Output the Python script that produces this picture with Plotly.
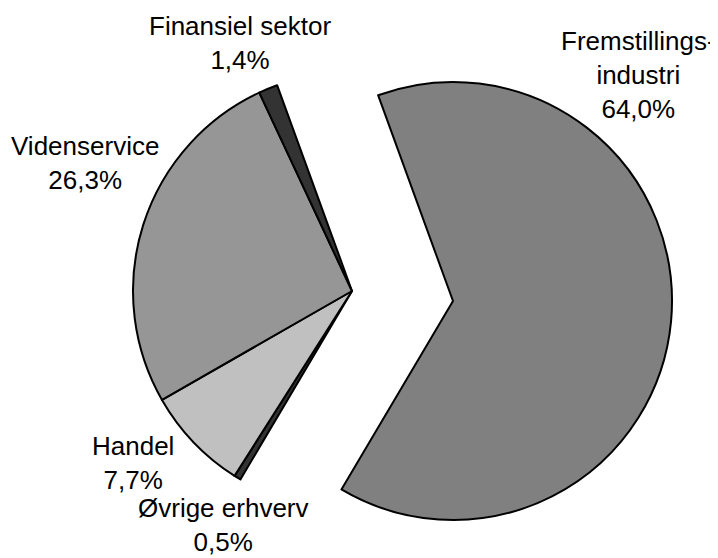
import plotly.graph_objects as go

# data (clockwise from the top, as in the original)
sectors = ["Fremstillingsindustri", "Øvrige erhverv", "Handel", "Videnservice", "Finansiel sektor"]
shares = [64.0, 0.5, 7.7, 26.3, 1.4]
colors = ["#808080", "#333333", "#c0c0c0", "#969696", "#333333"]
label_texts = [
    "Fremstillings-<br>industri<br>64,0%",
    "Øvrige erhverv<br>0,5%",
    "Handel<br>7,7%",
    "Videnservice<br>26,3%",
    "Finansiel sektor<br>1,4%",
]
label_x = [0.888, 0.304, 0.176, 0.109, 0.327]
label_y = [0.879, 0.060, 0.173, 0.718, 0.936]

# page body has an 8px margin, so the figure is a little smaller than the window
W, H = 710, 550

hidden = "rgba(0,0,0,0)"

# the small slices (Fremstilling left invisible here)
fill_main = [hidden] + colors[1:]
line_main = [hidden] + ["black"] * 4
width_main = [0] + [2] * 4

# the pulled-out slice drawn on its own, shifted right
fill_pull = [colors[0]] + [hidden] * 4
line_pull = ["black"] + [hidden] * 4
width_pull = [2] + [0] * 4

fig = go.Figure()

fig.add_trace(
    go.Pie(
        labels=sectors,
        values=shares,
        sort=False,
        direction="clockwise",
        rotation=-20,
        textinfo="none",
        hoverinfo="label+percent",
        marker=dict(colors=fill_main, line=dict(color=line_main, width=width_main)),
        domain=dict(x=[125 / W, 563 / W], y=[1 - 502 / H, 1 - 64 / H]),
        showlegend=False,
    )
)

fig.add_trace(
    go.Pie(
        labels=sectors,
        values=shares,
        sort=False,
        direction="clockwise",
        rotation=-20,
        textinfo="none",
        hoverinfo="label+percent",
        marker=dict(colors=fill_pull, line=dict(color=line_pull, width=width_pull)),
        domain=dict(x=[226 / W, 664 / W], y=[1 - 512 / H, 1 - 74 / H]),
        showlegend=False,
    )
)

for txt, lx, ly in zip(label_texts, label_x, label_y):
    fig.add_annotation(
        text=txt,
        x=lx,
        y=ly,
        xref="paper",
        yref="paper",
        xanchor="center",
        yanchor="middle",
        showarrow=False,
        align="center",
        font=dict(family="Liberation Sans, Arial, sans-serif", size=26, color="black"),
    )

fig.update_layout(
    width=W,
    height=H,
    margin=dict(l=0, r=0, t=0, b=0),
    paper_bgcolor="white",
    plot_bgcolor="white",
)

fig.write_html("out.html")
